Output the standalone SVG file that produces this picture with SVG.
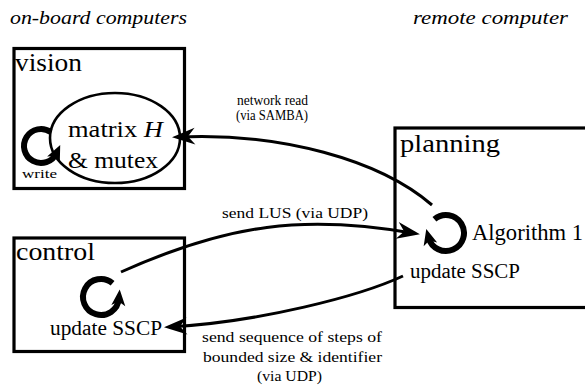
<svg xmlns="http://www.w3.org/2000/svg" width="585" height="386" viewBox="0 0 585 386">
<style>
.box{fill:none;stroke:#000;stroke-width:3.2}
.ell{fill:none;stroke:#000;stroke-width:2.6}
.con{fill:none;stroke:#000;stroke-width:3}
.loop{fill:none;stroke:#000;stroke-width:6}
.title{font-size:18px;font-style:italic}
.node{font-size:26px}
.lab{font-size:23px}
.sm{font-size:20px}
.edge{font-size:14px}
</style>
<defs>
<marker id="arr" markerUnits="userSpaceOnUse" viewBox="-24 -10 30 20" markerWidth="30" markerHeight="20" refX="-5" refY="0" orient="auto" overflow="visible">
<path d="M0,0 L-23,-8.5 L-16,0 L-23,8.5 Z" fill="#000"/>
</marker>
<marker id="larr" markerUnits="userSpaceOnUse" viewBox="-18 -9 22 18" markerWidth="22" markerHeight="18" refX="-9" refY="0" orient="auto" overflow="visible">
<path d="M0,0 L-16,-7 L-12,0 L-16,7 Z" fill="#000"/>
</marker>
</defs>
<rect width="585" height="386" fill="#fff"/>
<text class="title" font-family="Liberation Serif, serif" x="10" y="24" textLength="177" lengthAdjust="spacingAndGlyphs">on-board computers</text>
<text class="title" font-family="Liberation Serif, serif" x="413" y="24" textLength="155" lengthAdjust="spacingAndGlyphs">remote computer</text>

<g id="vision">
<rect class="box" x="14" y="48.5" width="170.5" height="140"/>
<text class="node" font-family="Liberation Serif, serif" x="15" y="71" textLength="67" lengthAdjust="spacingAndGlyphs">vision</text>
<ellipse class="ell" cx="115" cy="138" rx="65" ry="45"/>
<text class="lab" font-family="Liberation Serif, serif" x="68" y="137" textLength="95" lengthAdjust="spacingAndGlyphs">matrix <tspan font-style="italic">H</tspan></text>
<text class="lab" font-family="Liberation Serif, serif" x="68" y="168" textLength="90" lengthAdjust="spacingAndGlyphs">&amp; mutex</text>
<path class="loop" d="M50.75,132.07 A17,17 0 1 0 56.41,153.18" marker-end="url(#larr)"/>
<text font-family="Liberation Serif, serif" x="22" y="178" font-size="13" textLength="35" lengthAdjust="spacingAndGlyphs">write</text>
</g>

<g id="control">
<rect class="box" x="14" y="238" width="170.5" height="113.5"/>
<text class="node" font-family="Liberation Serif, serif" x="16" y="260" textLength="79" lengthAdjust="spacingAndGlyphs">control</text>
<path class="loop" d="M112.57,283.21 A18,18 0 1 0 118.93,298.57" marker-end="url(#larr)"/>
<text class="sm" font-family="Liberation Serif, serif" x="50" y="335" textLength="112" lengthAdjust="spacingAndGlyphs">update SSCP</text>
</g>

<g id="planning">
<rect class="box" x="395" y="128" width="200" height="179.5"/>
<text class="node" font-family="Liberation Serif, serif" x="400" y="152" textLength="100" lengthAdjust="spacingAndGlyphs">planning</text>
<path class="loop" d="M434.43,219.21 A18,18 0 1 1 428.61,237.66" marker-end="url(#larr)"/>
<text class="lab" font-family="Liberation Serif, serif" x="472" y="240" textLength="111" lengthAdjust="spacingAndGlyphs">Algorithm 1</text>
<text class="sm" font-family="Liberation Serif, serif" x="410" y="278" textLength="110" lengthAdjust="spacingAndGlyphs">update SSCP</text>
</g>

<g id="connectors">
<path class="con" d="M432,205 C380,160 280,132 177,137" marker-end="url(#arr)"/>
<path class="con" d="M121,272 C228,224 305,214 415,233.5" marker-end="url(#arr)"/>
<path class="con" d="M403,276 C360,296 260,322 169,327" marker-end="url(#arr)"/>
<text class="edge" font-family="Liberation Serif, serif" x="237" y="105" textLength="71" lengthAdjust="spacingAndGlyphs">network read</text>
<text class="edge" font-family="Liberation Serif, serif" x="236" y="120" textLength="72" lengthAdjust="spacingAndGlyphs">(via SAMBA)</text>
<text class="edge" font-family="Liberation Serif, serif" x="222" y="218" textLength="146" lengthAdjust="spacingAndGlyphs">send LUS (via UDP)</text>
<text class="edge" font-family="Liberation Serif, serif" x="202" y="342" textLength="180" lengthAdjust="spacingAndGlyphs">send sequence of steps of</text>
<text class="edge" font-family="Liberation Serif, serif" x="203" y="362" textLength="179" lengthAdjust="spacingAndGlyphs">bounded size &amp; identifier</text>
<text class="edge" font-family="Liberation Serif, serif" x="257" y="381" textLength="65" lengthAdjust="spacingAndGlyphs">(via UDP)</text>
</g>
</svg>
